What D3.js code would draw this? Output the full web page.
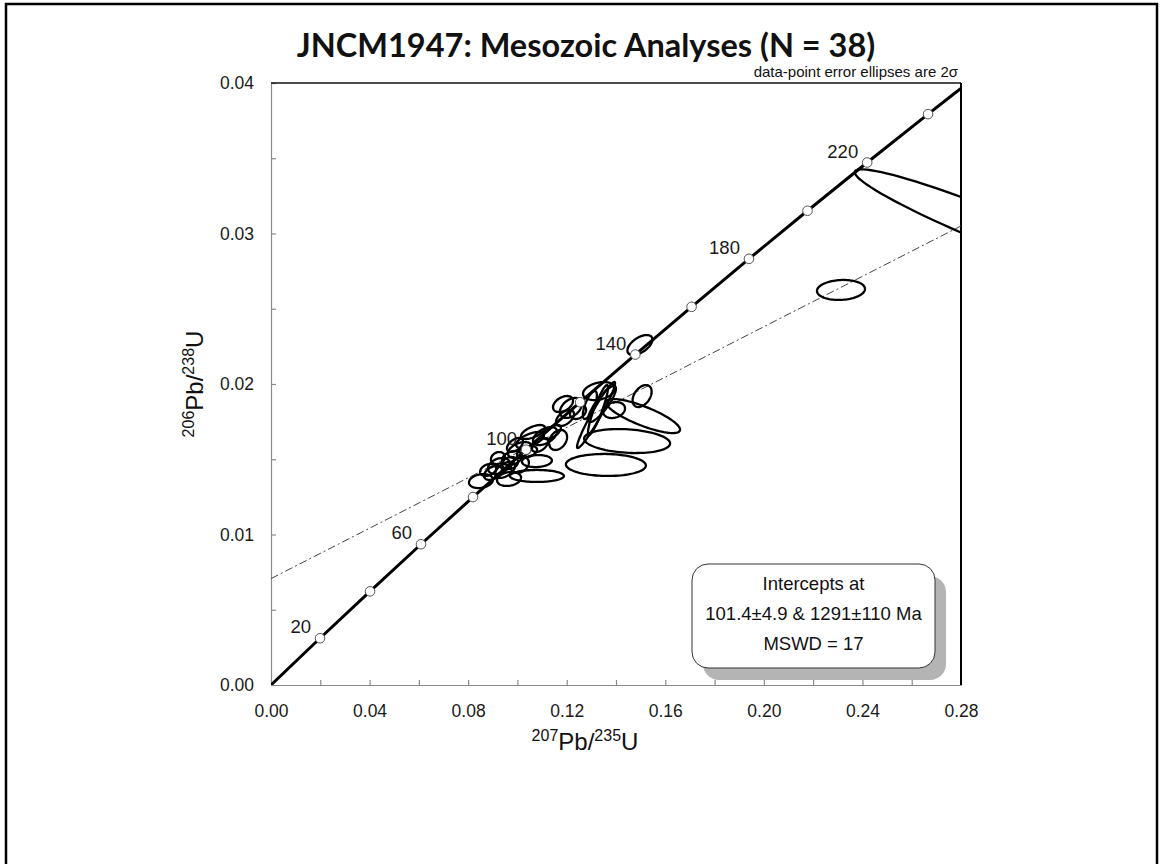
<!DOCTYPE html>
<html>
<head>
<meta charset="utf-8">
<script src="https://cdn.jsdelivr.net/npm/d3@7"></script>
<style>
  body { margin: 0; background: #fff; }
  svg { display: block; }
</style>
</head>
<body>
<svg id="chart" width="1160" height="864"></svg>
<script>
// ---- data ----
const titleText = 'JNCM1947: Mesozoic Analyses (N = 38)';
const noteText = 'data-point error ellipses are 2σ';

// concordia (age in Ma, 207Pb/235U, 206Pb/238U)
const concordiaAge = [0, 20, 40, 60, 80, 100, 120, 140, 160, 180, 200, 220, 240, 260];
const concordiaX = [0, 0.019892, 0.040180, 0.060872, 0.081975, 0.103498, 0.125446, 0.147838, 0.170674, 0.193953, 0.217708, 0.241934, 0.26663, 0.29183];
const concordiaY = [0, 0.0031073, 0.0062243, 0.0093509, 0.0124873, 0.0156334, 0.0187894, 0.0219555, 0.0251305, 0.0283165, 0.0315113, 0.0347170, 0.0379316, 0.0411573];
const markerAges = [20, 40, 60, 80, 100, 120, 140, 160, 180, 200, 220, 240];
const labelAges = [20, 60, 100, 140, 180, 220];

// discordia (regression line)
const discordiaX = [0, 0.28];
const discordiaY = [0.00707, 0.0305];

// analyses: centre, 2-sigma errors, error correlation
const ellX   = [0.2934, 0.2313, 0.1497, 0.1506, 0.1510, 0.1445, 0.1359, 0.1319, 0.1327, 0.1343, 0.1331, 0.1392, 0.1217, 0.1246, 0.1294,
                0.0852, 0.0925, 0.1079, 0.1079, 0.0966, 0.1165, 0.1051, 0.1112, 0.1010, 0.0978, 0.0950, 0.0901, 0.1010, 0.1039, 0.0990,
                0.1092, 0.1140, 0.1193, 0.1185, 0.0881, 0.0921, 0.0970, 0.1063];
const ellSX  = [0.0565, 0.00974, 0.00507, 0.00386, 0.01501, 0.01745, 0.01623, 0.00771, 0.00406, 0.00568, 0.00649, 0.00446, 0.00446, 0.00325, 0.00284,
                0.00487, 0.00446, 0.01096, 0.00609, 0.00487, 0.00365, 0.00568, 0.00487, 0.00487, 0.00406, 0.00406, 0.00365, 0.00365, 0.00406, 0.00325,
                0.00325, 0.00365, 0.00365, 0.00406, 0.00325, 0.00284, 0.00325, 0.00487];
const ellY   = [0.03037, 0.02625, 0.02259, 0.01920, 0.01787, 0.01621, 0.01462, 0.01794, 0.01827, 0.01867, 0.01953, 0.01827, 0.01841, 0.01814, 0.0186,
                0.01355, 0.01455, 0.01389, 0.01488, 0.01369, 0.01628, 0.01628, 0.01654, 0.01561, 0.01508, 0.01429, 0.01409, 0.01462, 0.01548, 0.01595,
                0.01595, 0.01681, 0.01774, 0.01867, 0.01429, 0.01508, 0.01475, 0.01681];
const ellSY  = [0.00389, 0.000664, 0.000664, 0.000731, 0.00113, 0.000797, 0.000731, 0.00219, 0.00166, 0.0012, 0.000598, 0.000532, 0.000664, 0.000465, 0.00093,
                0.000465, 0.000532, 0.000399, 0.000399, 0.000465, 0.000664, 0.000532, 0.000598, 0.000532, 0.000465, 0.000532, 0.000465, 0.000532, 0.000399, 0.000465,
                0.000465, 0.000465, 0.000532, 0.000532, 0.000399, 0.000399, 0.000399, 0.000465];
const ellRho = [-0.95, 0.1, 0.55, 0.4, -0.8, -0.2, -0.05, 0.96, 0.9, 0.85, 0.3, 0.2, 0.4, 0.3, 0.7,
                0.2, 0.3, 0, 0.1, 0.2, 0.3, 0.6, 0.5, 0.4, 0.3, 0.5, 0.4, 0.3, 0.4, 0.5,
                0.5, 0.6, 0.5, 0.4, 0.3, 0.2, 0.2, 0.6];

// axis ticks
const xTickValues = [0, 0.04, 0.08, 0.12, 0.16, 0.20, 0.24, 0.28];
const xMinorTicks = [0.02, 0.06, 0.10, 0.14, 0.18, 0.22, 0.26];
const yTickValues = [0, 0.01, 0.02, 0.03, 0.04];
const yMinorTicks = [0.005, 0.015, 0.025, 0.035];

// intercept summary
const interceptLower = '101.4±4.9';
const interceptUpper = '1291±110';
const mswd = 17;

// ---- layout ----
const svg = d3.select('#chart');
const plot = { left: 271, right: 961, top: 83, bottom: 685 };

const x = d3.scaleLinear().domain([0, 0.28]).range([plot.left, plot.right]);
const y = d3.scaleLinear().domain([0, 0.04]).range([plot.bottom, plot.top]);

// slide frame
svg.append('rect')
   .attr('x', 6).attr('y', 4)
   .attr('width', 1151).attr('height', 880)
   .attr('fill', 'none')
   .attr('stroke', '#000')
   .attr('stroke-width', 2.5);

// clip for plot area
svg.append('defs').append('clipPath')
   .attr('id', 'plot-clip')
   .append('rect')
   .attr('x', plot.left).attr('y', plot.top)
   .attr('width', plot.right - plot.left)
   .attr('height', plot.bottom - plot.top);

// title
svg.append('text')
   .attr('x', 586).attr('y', 57)
   .attr('text-anchor', 'middle')
   .attr('font-family', 'Lato, "Open Sans", sans-serif')
   .attr('font-weight', 700)
   .attr('font-size', '32.5px')
   .attr('fill', '#111')
   .text(titleText);

svg.append('text')
   .attr('x', 958).attr('y', 77)
   .attr('text-anchor', 'end')
   .attr('font-family', '"Liberation Sans", Arial, sans-serif')
   .attr('font-size', '15px')
   .attr('fill', '#111')
   .text(noteText);

// axes
const tickFont = '"Liberation Sans", Arial, sans-serif';

svg.append('g')
   .attr('transform', `translate(0, ${plot.bottom})`)
   .call(d3.axisBottom(x).tickValues(xTickValues).tickFormat(d3.format('.2f'))
        .tickSizeInner(-5).tickSizeOuter(0).tickPadding(20));
svg.append('g')
   .attr('transform', `translate(0, ${plot.bottom})`)
   .call(d3.axisBottom(x).tickValues(xMinorTicks).tickFormat('').tickSizeInner(-5).tickSizeOuter(0))
   .select('.domain').remove();

svg.append('g')
   .attr('transform', `translate(${plot.left}, 0)`)
   .call(d3.axisLeft(y).tickValues(yTickValues).tickFormat(d3.format('.2f'))
        .tickSizeInner(-5).tickSizeOuter(0).tickPadding(17));
svg.append('g')
   .attr('transform', `translate(${plot.left}, 0)`)
   .call(d3.axisLeft(y).tickValues(yMinorTicks).tickFormat('').tickSizeInner(-5).tickSizeOuter(0))
   .select('.domain').remove();

svg.selectAll('.domain, .tick line').attr('stroke', '#8a8a8a').attr('stroke-width', 1.2);
svg.selectAll('.tick text')
   .attr('font-family', tickFont)
   .attr('font-size', '17.5px')
   .attr('fill', '#1a1a1a');

// top and right border
svg.append('line')
   .attr('x1', plot.left).attr('x2', plot.right)
   .attr('y1', plot.top).attr('y2', plot.top)
   .attr('stroke', '#111').attr('stroke-width', 1.5);
svg.append('line')
   .attr('x1', plot.right).attr('x2', plot.right)
   .attr('y1', plot.top).attr('y2', plot.bottom)
   .attr('stroke', '#000').attr('stroke-width', 2);

// axis titles with superscripts
const xTitle = svg.append('text')
   .attr('x', 585).attr('y', 750)
   .attr('text-anchor', 'middle')
   .attr('font-family', tickFont)
   .attr('fill', '#111');
xTitle.append('tspan').attr('font-size', '16px').attr('dy', -9).text('207');
xTitle.append('tspan').attr('font-size', '24px').attr('dy', 9).text('Pb/');
xTitle.append('tspan').attr('font-size', '16px').attr('dy', -9).text('235');
xTitle.append('tspan').attr('font-size', '24px').attr('dy', 9).text('U');

const yTitle = svg.append('text')
   .attr('transform', 'translate(203, 384) rotate(-90)')
   .attr('text-anchor', 'middle')
   .attr('font-family', tickFont)
   .attr('fill', '#111');
yTitle.append('tspan').attr('font-size', '16px').attr('dy', -9).text('206');
yTitle.append('tspan').attr('font-size', '24px').attr('dy', 9).text('Pb/');
yTitle.append('tspan').attr('font-size', '16px').attr('dy', -9).text('238');
yTitle.append('tspan').attr('font-size', '24px').attr('dy', 9).text('U');

const plotG = svg.append('g').attr('clip-path', 'url(#plot-clip)');

// discordia
const discordia = discordiaX.map((d, i) => [d, discordiaY[i]]);
plotG.append('path')
   .attr('d', d3.line().x(d => x(d[0])).y(d => y(d[1]))(discordia))
   .attr('fill', 'none')
   .attr('stroke', '#444')
   .attr('stroke-width', 1)
   .attr('stroke-dasharray', '8,3,2,3');

// error ellipses
const ellipses = ellX.map((d, i) => ({ x: d, sx: ellSX[i], y: ellY[i], sy: ellSY[i], rho: ellRho[i] }));
const ellLine = d3.line().curve(d3.curveLinearClosed);
plotG.selectAll('.ellipse')
   .data(ellipses)
   .enter()
   .append('path')
   .attr('class', 'ellipse')
   .attr('d', e => {
       const k = Math.sqrt(1 - e.rho * e.rho);
       const pts = d3.range(90).map(j => {
           const t = j / 90 * 2 * Math.PI;
           const u = Math.cos(t), v = Math.sin(t);
           return [x(e.x + e.sx * u), y(e.y + e.sy * (e.rho * u + k * v))];
       });
       return ellLine(pts);
   })
   .attr('fill', 'none')
   .attr('stroke', '#000')
   .attr('stroke-width', 2.3);

// concordia curve
const concordia = concordiaAge.map((a, i) => ({ age: a, x: concordiaX[i], y: concordiaY[i] }));
plotG.append('path')
   .attr('d', d3.line().x(d => x(d.x)).y(d => y(d.y)).curve(d3.curveCatmullRom)(concordia))
   .attr('fill', 'none')
   .attr('stroke', '#000')
   .attr('stroke-width', 3);

const markers = concordia.filter(d => markerAges.includes(d.age));
plotG.selectAll('.marker')
   .data(markers)
   .enter()
   .append('circle')
   .attr('class', 'marker')
   .attr('cx', d => x(d.x))
   .attr('cy', d => y(d.y))
   .attr('r', 4.8)
   .attr('fill', '#fff')
   .attr('stroke', '#555')
   .attr('stroke-width', 1);

svg.selectAll('.age-label')
   .data(concordia.filter(d => labelAges.includes(d.age)))
   .enter()
   .append('text')
   .attr('class', 'age-label')
   .attr('x', d => x(d.x) - 9)
   .attr('y', d => y(d.y) - 5)
   .attr('text-anchor', 'end')
   .attr('font-family', tickFont)
   .attr('font-size', '18.5px')
   .attr('fill', '#1a1a1a')
   .text(d => d.age);

// intercept box
const box = { x: 692, y: 564, w: 243, h: 104 };
svg.append('rect')
   .attr('x', box.x + 11).attr('y', box.y + 12)
   .attr('width', box.w).attr('height', box.h)
   .attr('rx', 16)
   .attr('fill', '#b4b4b4');
svg.append('rect')
   .attr('x', box.x).attr('y', box.y)
   .attr('width', box.w).attr('height', box.h)
   .attr('rx', 16)
   .attr('fill', '#fff')
   .attr('stroke', '#333')
   .attr('stroke-width', 1);

const boxLines = ['Intercepts at', `${interceptLower} & ${interceptUpper} Ma`, `MSWD = ${mswd}`];
svg.selectAll('.box-line')
   .data(boxLines)
   .enter()
   .append('text')
   .attr('class', 'box-line')
   .attr('x', box.x + box.w / 2)
   .attr('y', (d, i) => box.y + 26 + i * 30)
   .attr('text-anchor', 'middle')
   .attr('font-family', tickFont)
   .attr('font-size', '18.5px')
   .attr('fill', '#111')
   .text(d => d);
</script>
</body>
</html>
